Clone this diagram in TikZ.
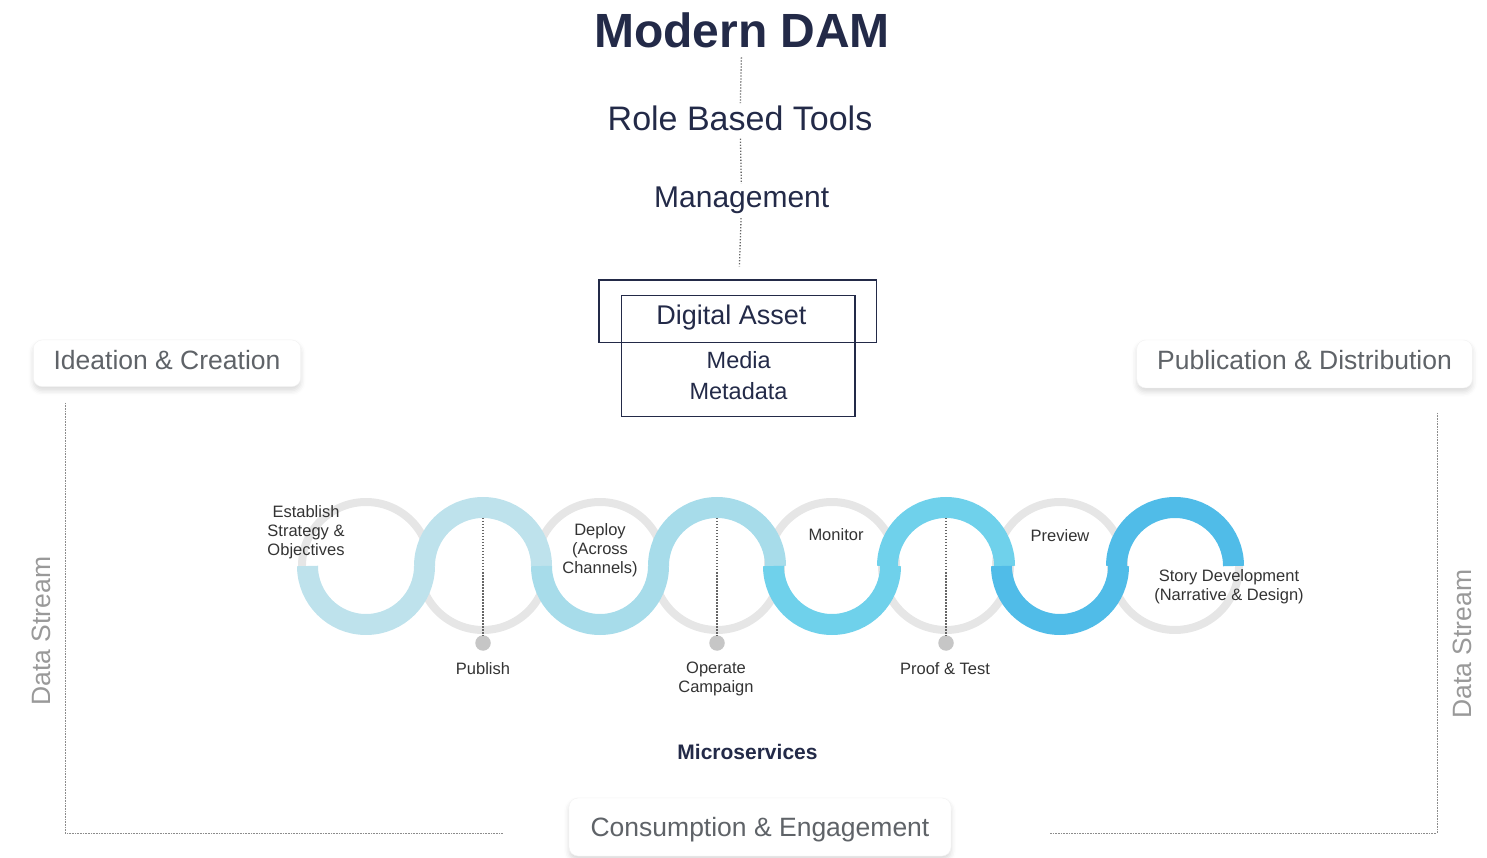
\documentclass[tikz,border=0pt]{standalone}
\usepackage{fontspec}
\setmainfont{Liberation Sans}
\usetikzlibrary{shadows.blur}

\definecolor{navy}{HTML}{232A48}
\definecolor{stagegrey}{HTML}{5F6368}
\definecolor{ringgrey}{HTML}{E6E6E6}
\definecolor{dotgrey}{HTML}{C6C6C6}
\definecolor{wa}{HTML}{BEE2EC}
\definecolor{wb}{HTML}{A7DCEA}
\definecolor{wc}{HTML}{6FD1EB}
\definecolor{wd}{HTML}{50BCE8}

\def\wavepts{366/wa,483/wa,600/wb,717/wb,832/wc,946/wc,1060/wd,1175/wd}

\begin{document}
\begin{tikzpicture}[x=1pt, y=1pt, inner sep=0pt,
    t/.style={text=navy, anchor=base},
    stage/.style={fill=white, draw=black!5, rounded corners=9pt, text=stagegrey,
      font=\fontsize{26.5}{30}\selectfont, text height=17pt, text depth=5pt,
      blur shadow={shadow xshift=0pt, shadow yshift=-4pt, shadow blur radius=5pt, shadow opacity=15}},
    ds/.style={text=black!40, rotate=90, anchor=base, font=\fontsize{26.5}{30}\selectfont},
    lbl/.style={text=black!80, align=center, font=\fontsize{16.5}{19}\selectfont},
    vdot/.style={draw=black!60, line width=1.3pt, dash pattern=on 1.3pt off 1.7pt},
    frame/.style={draw=black!45, line width=1pt, dash pattern=on 0.8pt off 0.8pt},
    vline/.style={draw=black!60, line width=1.5pt, dash pattern=on 1.5pt off 1.5pt},
    ring/.style={draw=ringgrey, line width=8pt},
    wave/.style={line width=21pt},
    dot/.style={circle, fill=dotgrey, minimum size=15.5pt}]
  \path[use as bounding box, clip] (0,0) rectangle (1487,857);

  \node[t, font=\bfseries\fontsize{48}{56}\selectfont] (dam) at (742,809) {Modern DAM};
  \node[t, font=\fontsize{34}{40}\selectfont] (rbt) at (740,726) {Role Based Tools};
  \node[t, font=\fontsize{30}{36}\selectfont] (mgmt) at (741.7,649) {Management};
  \node[draw=navy, line width=1.2pt, minimum width=277.7pt, minimum height=62.3pt] (asset) at (737.8,545.9) {};
  \node[draw=navy, line width=1.2pt, minimum width=233.3pt, minimum height=121.4pt] (media) at (738.3,501) {};
  \node[t, font=\fontsize{27}{32}\selectfont] (asset-t) at (731.5,532) {Digital Asset};
  \node[t, font=\fontsize{23.5}{28}\selectfont] (media-t) at (738.7,488.7) {Media};
  \node[t, font=\fontsize{23.5}{28}\selectfont] (meta-t) at (738.5,457) {Metadata};
  \foreach \a/\b/\s/\e in {dam/rbt/8.7/3, rbt/mgmt/7/3.5, mgmt/asset/3.7/13}
    \draw[vdot, shorten <=\s pt, shorten >=\e pt] (\a) -- (\b);

  \node[stage, minimum width=267.4pt, minimum height=46.7pt] (idea) at (167,493.7) {Ideation \& Creation};
  \node[stage, minimum width=335.6pt, minimum height=48pt] (pub) at (1304.5,493) {Publication \& Distribution};
  \node[stage, minimum width=382pt, minimum height=58pt, text height=20pt, text depth=2pt] (cons) at (760,30) {Consumption \& Engagement};

  \node[ds] (ds-l) at (50,226) {Data Stream};
  \node[ds] (ds-r) at (1471.7,213) {Data Stream};
  \coordinate (l0) at (65,454); \coordinate (l1) at (65,24); \coordinate (l2) at (503,24);
  \coordinate (r0) at (1437,444); \coordinate (r1) at (1437,24); \coordinate (r2) at (1050,24);
  \draw[frame] (l0) -- (l1) -- (l2);
  \draw[frame] (r0) -- (r1) -- (r2);

  \foreach \x/\c in \wavepts
    \draw[ring] (\x,291) circle[radius=64];
  \foreach \x/\c [count=\i] in \wavepts {
    \ifodd\i
      \draw[wave, draw=\c] (\x-58.5,291) arc[start angle=180, end angle=360, radius=58.5];
    \else
      \draw[wave, draw=\c] (\x-58.5,291) arc[start angle=180, end angle=0, radius=58.5];
    \fi
  }
  \foreach \x/\n in {483/publish, 717/operate, 946/proof} {
    \coordinate (\n-top) at (\x,339);
    \node[dot] (\n-dot) at (\x,214) {};
    \draw[vline] (\n-top) -- (\n-dot);
  }

  \node[lbl] (establish) at (306,325) {Establish\\Strategy \&\\Objectives};
  \node[lbl] (publish) at (483,188) {Publish};
  \node[lbl] (deploy) at (600,307) {Deploy\\(Across\\Channels)};
  \node[lbl] (operate) at (716,178.5) {Operate\\Campaign};
  \node[lbl] (monitor) at (836,322) {Monitor};
  \node[lbl] (proof) at (945,188) {Proof \& Test};
  \node[lbl] (preview) at (1060,321) {Preview};
  \node[lbl] (story) at (1229,270.5) {Story Development\\(Narrative \& Design)};
  \node[t, font=\bfseries\fontsize{21}{25}\selectfont] (micro) at (747.5,97.5) {Microservices};
\end{tikzpicture}
\end{document}
